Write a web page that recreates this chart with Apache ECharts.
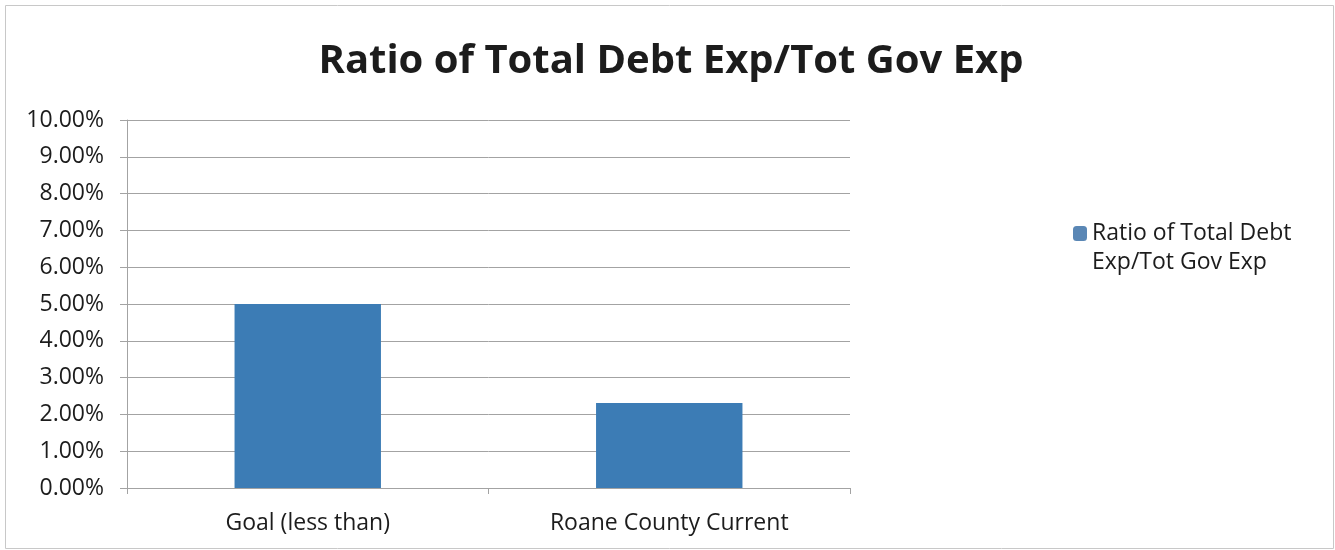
<!DOCTYPE html>
<html>
<head>
<meta charset="utf-8">
<style>
  html, body { margin: 0; padding: 0; background: #ffffff; }
  #chart { width: 1335px; height: 550px; }
</style>
<script src="https://cdn.jsdelivr.net/npm/echarts@6/dist/echarts.min.js"></script>
</head>
<body>
<div id="chart"></div>
<script>
// Debt expense ratio: goal vs. current
const chartTitle = 'Ratio of Total Debt Exp/Tot Gov Exp';
const seriesName = 'Ratio of Total Debt Exp/Tot Gov Exp';
const legendLines = ['Ratio of Total Debt', 'Exp/Tot Gov Exp'];
const categories = ['Goal (less than)', 'Roane County Current'];
const ratioValues = [0.05, 0.0231];
const axisMax = 0.10;
const axisStep = 0.01;

const chart = echarts.init(document.getElementById('chart'));
const textColor = '#1c1c1c';
const fontFamily = '"Open Sans", "Noto Sans", sans-serif';
const lineColor = '#a3a3a3';

chart.setOption({
  backgroundColor: '#ffffff',
  animation: false,
  title: {
    text: chartTitle,
    left: 666,
    top: 37,
    textAlign: 'center',
    textStyle: { fontFamily: fontFamily, fontWeight: 'bold', fontSize: 40, color: textColor }
  },
  legend: {
    data: [seriesName],
    left: 1068,
    top: 185,
    orient: 'vertical',
    itemWidth: 14,
    itemHeight: 15,
    itemGap: 10,
    icon: 'roundRect',
    // leading blank line keeps the marker level with the first text line
    formatter: function () { return '\u00a0\n' + legendLines.join('\n'); },
    textStyle: { fontFamily: fontFamily, fontSize: 23, color: textColor, lineHeight: 29 },
    itemStyle: { color: '#5a87b5' }
  },
  grid: { left: 127, right: 485, top: 120, bottom: 62 },
  xAxis: {
    type: 'category',
    data: categories,
    axisLine: { lineStyle: { color: lineColor, width: 1 } },
    axisTick: { show: true, length: 6, lineStyle: { color: lineColor } },
    axisLabel: { fontFamily: fontFamily, fontSize: 23, color: textColor, margin: 24 }
  },
  yAxis: {
    type: 'value',
    min: 0,
    max: axisMax,
    interval: axisStep,
    axisLine: { show: true, lineStyle: { color: lineColor, width: 1 } },
    axisTick: { show: true, length: 7, lineStyle: { color: lineColor } },
    splitLine: { lineStyle: { color: lineColor, width: 1 } },
    axisLabel: {
      fontFamily: fontFamily, fontSize: 23, color: textColor, margin: 23,
      formatter: function (v) { return (v * 100).toFixed(2) + '%'; }
    }
  },
  series: [{
    name: seriesName,
    type: 'bar',
    data: ratioValues,
    barWidth: '40.5%',
    itemStyle: { color: '#3c7cb5' }
  }],
  graphic: [{
    type: 'rect',
    shape: { x: 5.5, y: 5.5, width: 1328, height: 543 },
    style: { fill: 'none', stroke: '#c8c8c8', lineWidth: 1 },
    silent: true
  }]
});
</script>
</body>
</html>
